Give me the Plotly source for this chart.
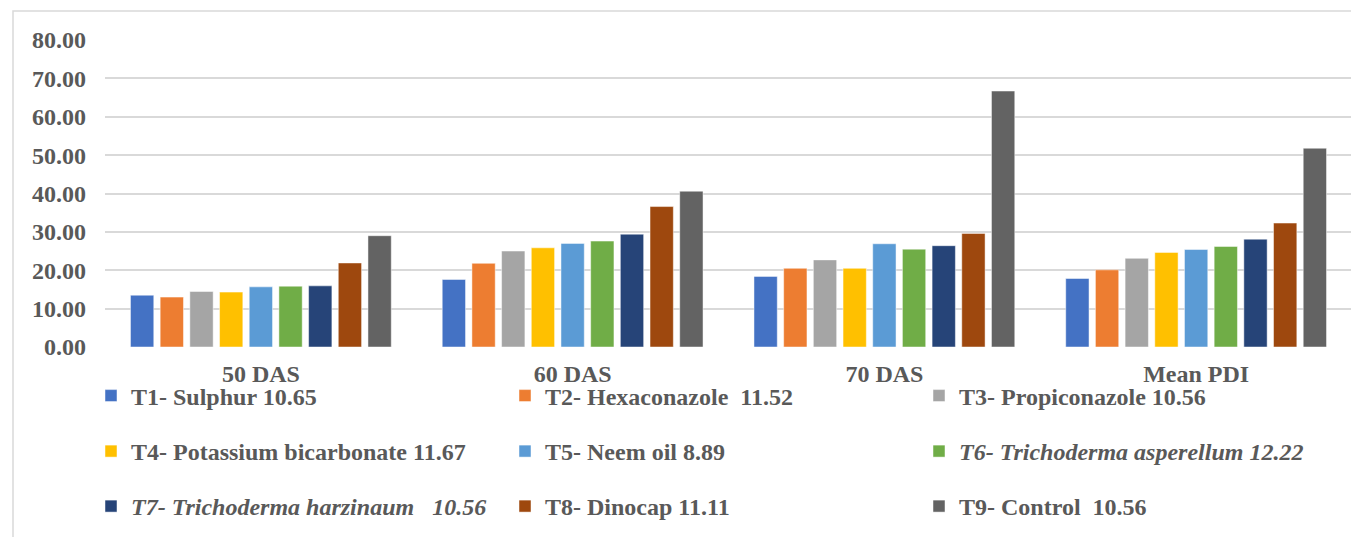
import plotly.graph_objects as go

categories = ["50 DAS", "60 DAS", "70 DAS", "Mean PDI"]

treatments = [
    "T1- Sulphur 10.65",
    "T2- Hexaconazole\u00a0 11.52",
    "T3- Propiconazole 10.56",
    "T4- Potassium bicarbonate 11.67",
    "T5- Neem oil 8.89",
    "<i>T6- Trichoderma asperellum 12.22</i>",
    "<i>T7- Trichoderma harzinaum\u00a0\u00a0 10.56</i>",
    "T8- Dinocap 11.11",
    "T9- Control\u00a0 10.56",
]

t1 = [13.5, 17.6, 18.4, 17.85]
t2 = [13.0, 21.8, 20.5, 20.1]
t3 = [14.46, 25.0, 22.7, 23.1]
t4 = [14.3, 25.85, 20.5, 24.65]
t5 = [15.67, 27.0, 26.9, 25.4]
t6 = [15.85, 27.6, 25.5, 26.2]
t7 = [15.93, 29.4, 26.4, 28.1]
t8 = [21.9, 36.6, 29.6, 32.3]
t9 = [29.0, 40.6, 66.7, 51.8]
series = [t1, t2, t3, t4, t5, t6, t7, t8, t9]

colors = ["#4472C4", "#ED7D31", "#A5A5A5", "#FFC000", "#5B9BD5",
          "#70AD47", "#264478", "#9E480E", "#636363"]

yticks = [0, 10, 20, 30, 40, 50, 60, 70, 80]

legend_ids = ["legend", "legend2", "legend3"]

fig = go.Figure()
for i, (name, vals, col) in enumerate(zip(treatments, series, colors)):
    fig.add_trace(go.Bar(
        x=categories, y=vals, name=name,
        marker=dict(color=col, line=dict(color="rgba(255,255,255,0.6)", width=0.8)),
        legend=legend_ids[i // 3],
    ))

FONT = "Liberation Serif"
GREY = "#595959"
OFF = 8  # page body margin offset
W, H = 1359, 537
L = 105 - OFF
T = 40 - OFF
R = W - (1352 - OFF)
B = H - (347 - OFF)
pw = W - L - R
ph = H - T - B

def px_x(px):
    return (px - OFF - L) / pw

def px_y(py):
    return (H - B - (py - OFF)) / ph

leg_common = dict(
    orientation="h", xanchor="left", yanchor="middle",
    x=px_x(91), entrywidthmode="pixels", entrywidth=369,
    font=dict(family=FONT, size=24, color=GREY, weight="bold"),
    bgcolor="rgba(0,0,0,0)", traceorder="normal",
)

fig.update_layout(
    width=W, height=H,
    margin=dict(l=L, r=R, t=T, b=B, autoexpand=False),
    paper_bgcolor="white", plot_bgcolor="white",
    barmode="group", bargap=0.143, bargroupgap=0.215,
    font=dict(family=FONT, size=24, color=GREY, weight="bold"),
    legend=dict(y=px_y(396), **leg_common),
    legend2=dict(y=px_y(451.5), **leg_common),
    legend3=dict(y=px_y(506.5), **leg_common),
    xaxis=dict(
        showgrid=False, showline=False, zeroline=False, automargin=False,
        tickfont=dict(family=FONT, size=24, color=GREY, weight="bold"),
        ticklabelstandoff=10,
    ),
    yaxis=dict(
        range=[0, 80], tickvals=yticks, tickformat=".2f", automargin=False,
        showgrid=True, gridcolor="#D9D9D9", gridwidth=1.5,
        zeroline=False, showline=False,
        tickfont=dict(family=FONT, size=24, color=GREY, weight="bold"),
        ticklabelstandoff=18,
    ),
    shapes=[dict(
        type="rect", xref="paper", yref="paper",
        x0=px_x(13), x1=px_x(1375), y0=px_y(555), y1=px_y(11),
        line=dict(color="#D9D9D9", width=1.5), fillcolor="rgba(0,0,0,0)",
        layer="below",
    )],
)

fig.write_html("out.html")
